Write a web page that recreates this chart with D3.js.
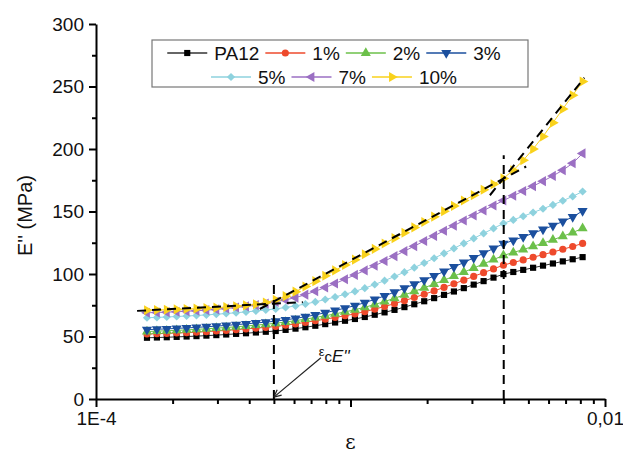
<!DOCTYPE html>
<html>
<head>
<meta charset="utf-8">
<script src="https://cdn.jsdelivr.net/npm/d3@7"></script>
<style>
  body { margin: 0; background: #fff; }
  svg text { font-family: "Liberation Sans", Arial, sans-serif; fill: #111; }
</style>
</head>
<body>
<div class="canvas"></div>
<script>
// strain amplitude (x) of every measured point
const strain = [1.586e-4, 1.735e-4, 1.897e-4, 2.075e-4, 2.270e-4, 2.482e-4, 2.715e-4, 2.970e-4, 3.248e-4, 3.552e-4,
  3.885e-4, 4.249e-4, 4.647e-4, 5.083e-4, 5.559e-4, 6.080e-4, 6.650e-4, 7.273e-4, 7.955e-4, 8.700e-4,
  9.515e-4, 1.041e-3, 1.138e-3, 1.245e-3, 1.361e-3, 1.489e-3, 1.629e-3, 1.781e-3, 1.948e-3, 2.131e-3,
  2.331e-3, 2.549e-3, 2.788e-3, 3.049e-3, 3.334e-3, 3.647e-3, 3.989e-3, 4.362e-3, 4.771e-3, 5.218e-3,
  5.707e-3, 6.242e-3, 6.827e-3, 7.466e-3, 8.166e-3];

// loss modulus E'' (MPa) per series
const pa12 = [49.0, 49.2, 49.4, 49.7, 50.0, 50.3, 50.7, 51.1, 51.6, 52.1, 52.6, 53.2, 53.8, 54.4, 55.3,
  56.3, 57.4, 58.6, 59.9, 61.2, 62.6, 64.0, 65.6, 67.4, 69.3, 71.3, 73.5, 75.8, 78.2, 80.7,
  83.3, 86.0, 88.7, 91.5, 94.3, 97.1, 99.9, 101.6, 103.3, 105.0, 106.7, 108.4, 110.1, 111.8, 113.5];
const c1 = [52.0, 52.2, 52.5, 52.8, 53.1, 53.5, 53.9, 54.4, 54.9, 55.5, 56.1, 56.7, 57.3, 58.0, 59.0,
  60.1, 61.3, 62.6, 63.9, 65.2, 66.6, 68.1, 69.9, 71.9, 74.0, 76.3, 78.7, 81.2, 83.8, 86.5,
  89.3, 92.2, 95.1, 98.1, 101.1, 104.1, 107.1, 109.2, 111.3, 113.4, 115.5, 117.6, 119.8, 122.0, 124.5];
const c2 = [54.0, 54.3, 54.6, 54.9, 55.3, 55.7, 56.2, 56.7, 57.2, 57.8, 58.4, 59.1, 59.8, 60.6, 61.6,
  62.7, 63.9, 65.2, 66.6, 68.1, 69.7, 71.4, 73.4, 75.6, 78.0, 80.6, 83.3, 86.1, 89.0, 92.0,
  95.1, 98.3, 101.5, 104.8, 108.1, 111.5, 114.9, 117.2, 119.6, 122.1, 124.7, 127.4, 130.2, 133.2, 136.5];
const c3 = [55.5, 55.8, 56.1, 56.5, 56.9, 57.3, 57.8, 58.3, 58.9, 59.5, 60.1, 60.8, 61.5, 62.3, 63.3,
  64.5, 65.8, 67.3, 69.0, 70.8, 72.7, 74.7, 77.1, 79.7, 82.5, 85.5, 88.6, 91.8, 95.1, 98.5,
  102.0, 105.6, 109.2, 112.9, 116.6, 120.4, 124.2, 126.9, 129.7, 132.6, 135.6, 138.7, 142.0, 145.6, 150.5];
const c5 = [65.0, 65.3, 65.6, 66.0, 66.4, 66.8, 67.3, 67.8, 68.4, 69.0, 69.7, 70.4, 71.2, 72.1, 73.2,
  74.5, 76.0, 77.7, 79.6, 81.6, 83.8, 86.1, 88.7, 91.6, 94.7, 98.0, 101.5, 105.1, 108.8, 112.6,
  116.5, 120.5, 124.5, 128.5, 132.5, 136.5, 140.5, 143.3, 146.2, 149.2, 152.2, 155.3, 158.6, 162.1, 166.0];
const c7 = [69.0, 69.2, 69.5, 69.8, 70.2, 70.6, 71.1, 71.7, 72.4, 73.2, 74.1, 75.1, 76.3, 77.7, 79.3,
  81.1, 83.5, 86.2, 89.2, 92.4, 95.8, 99.3, 102.9, 106.6, 110.4, 114.3, 118.3, 122.3, 126.4, 130.5,
  134.6, 138.7, 142.8, 146.8, 150.8, 154.8, 158.8, 162.6, 166.4, 170.3, 174.3, 178.5, 183.1, 188.6, 196.5];
const c10 = [71.0, 71.2, 71.4, 71.7, 72.0, 72.3, 72.7, 73.1, 73.6, 74.2, 74.9, 75.8, 77.2, 79.3, 82.3,
  85.9, 90.0, 94.3, 98.6, 102.9, 107.2, 111.5, 115.8, 120.1, 124.4, 128.7, 133.0, 137.3, 141.6, 145.9,
  150.2, 154.5, 158.8, 163.1, 167.4, 171.8, 176.5, 183.0, 191.0, 200.0, 210.0, 221.0, 232.0, 243.0, 254.0];

const seriesNames = ['PA12', '1%', '2%', '3%', '5%', '7%', '10%'];

// axis ticks
const xTickValues = [1e-4, 1e-3, 1e-2];
const xTickLabels = ['1E-4', '', '0,01'];
const yTickValues = [0, 50, 100, 150, 200, 250, 300];
const yMinorValues = [25, 75, 125, 175, 225, 275];

// dashed fit lines and critical strains (strain, MPa)
const fitLow = [[1.45e-4, 70.5], [6.5e-4, 77.5]];
const fitMid = [[4.4e-4, 72], [4.9e-3, 186]];
const fitHigh = [[3.53e-3, 163], [8.3e-3, 257]];
const critLow = [[5e-4, 0], [5e-4, 93]];
const critHigh = [[4e-3, 0], [4e-3, 195]];
const arrowFrom = [7.65e-4, 33];
const arrowTo = [5e-4, 1.5];
const labelAt = [7.5e-4, 30];

// dimensions
const width = 623, height = 455;
const margin = { top: 24, right: 18, bottom: 56, left: 96 };

const svg = d3.select('.canvas')
    .append('svg')
    .attr('width', width)
    .attr('height', height);

const x = d3.scaleLog()
    .domain([1e-4, 1e-2])
    .range([margin.left, width - margin.right]);

const y = d3.scaleLinear()
    .domain([0, 300])
    .range([height - margin.bottom, margin.top]);

// styles for each series, same order as seriesNames
const styles = [
    { color: '#000000', line: '#333333', symbol: d3.symbolSquare, rot: 0, size: 38 },
    { color: '#ee4a2c', line: '#ee4a2c', symbol: d3.symbolCircle, rot: 0, size: 40 },
    { color: '#6cc04a', line: '#6cc04a', symbol: d3.symbolTriangle, rot: 0, size: 44 },
    { color: '#1b4f9e', line: '#1b4f9e', symbol: d3.symbolTriangle, rot: 180, size: 44 },
    { color: '#8ed2de', line: '#8ed2de', symbol: d3.symbolSquare, rot: 45, size: 34 },
    { color: '#9b6fc3', line: '#9b6fc3', symbol: d3.symbolTriangle, rot: -90, size: 44 },
    { color: '#f9d21c', line: '#f9d21c', symbol: d3.symbolTriangle, rot: 90, size: 44 }
];

const seriesValues = [pa12, c1, c2, c3, c5, c7, c10];
const series = seriesNames.map((name, i) => ({
    name,
    ...styles[i],
    points: strain.map((s, j) => ({ s, v: seriesValues[i][j] }))
}));

// axes
const isDecade = t => Math.abs(Math.log10(t) - Math.round(Math.log10(t))) < 1e-6;
const xMinorValues = x.ticks().filter(t => !isDecade(t));

const axisStyle = g => {
    g.selectAll('line').attr('stroke', '#000').attr('stroke-width', 2);
    g.selectAll('text').attr('font-size', 19).attr('fill', '#111');
};

svg.append('g')
    .attr('transform', `translate(0, ${y(0)})`)
    .call(d3.axisBottom(x).tickValues(xMinorValues).tickSize(5).tickFormat(''))
    .call(axisStyle)
    .call(g => g.select('.domain').remove());

svg.append('g')
    .attr('transform', `translate(${margin.left}, 0)`)
    .call(d3.axisLeft(y).tickValues(yMinorValues).tickSize(4).tickFormat(''))
    .call(axisStyle)
    .call(g => g.select('.domain').remove());

svg.append('g')
    .attr('transform', `translate(0, ${y(0)})`)
    .call(d3.axisBottom(x).tickValues(xTickValues).tickSize(8).tickSizeOuter(0).tickPadding(5)
        .tickFormat((d, i) => xTickLabels[i]))
    .call(axisStyle)
    .call(g => g.select('.domain').attr('stroke', '#000').attr('stroke-width', 2));

svg.append('g')
    .attr('transform', `translate(${margin.left}, 0)`)
    .call(d3.axisLeft(y).tickValues(yTickValues).tickSize(7).tickSizeOuter(0).tickPadding(5))
    .call(axisStyle)
    .call(g => g.select('.domain').attr('stroke', '#000').attr('stroke-width', 2));

// axis titles
svg.append('text')
    .attr('transform', `translate(32, ${(y(0) + y(300)) / 2 + 4}) rotate(-90)`)
    .attr('text-anchor', 'middle')
    .attr('font-size', 20)
    .text("E'' (MPa)");

svg.append('text')
    .attr('x', x(1e-3))
    .attr('y', height - 6)
    .attr('text-anchor', 'middle')
    .attr('font-size', 20)
    .style('font-family', '"DejaVu Serif", serif')
    .text('ε');

// series lines and markers
const line = d3.line().x(d => x(d.s)).y(d => y(d.v));

series.forEach(sr => {
    const g = svg.append('g');
    g.append('path')
        .datum(sr.points)
        .attr('d', line)
        .attr('fill', 'none')
        .attr('stroke', sr.line)
        .attr('stroke-width', 1);
    g.selectAll('path.pt')
        .data(sr.points)
        .enter()
        .append('path')
            .attr('class', 'pt')
            .attr('d', d3.symbol().type(sr.symbol).size(sr.size))
            .attr('transform', d => `translate(${x(d.s)}, ${y(d.v)}) rotate(${sr.rot})`)
            .attr('fill', sr.color);
});

// dashed annotation lines
const dashed = d3.line().x(d => x(d[0])).y(d => y(d[1]));
[fitLow, fitMid, fitHigh, critLow, critHigh].forEach(seg => {
    svg.append('path')
        .attr('d', dashed(seg))
        .attr('fill', 'none')
        .attr('stroke', '#000')
        .attr('stroke-width', 2)
        .attr('stroke-dasharray', '9,6');
});

// arrow to the critical strain
const ax0 = x(arrowFrom[0]), ay0 = y(arrowFrom[1]);
const ax1 = x(arrowTo[0]), ay1 = y(arrowTo[1]);
const ang = Math.atan2(ay1 - ay0, ax1 - ax0);
svg.append('line')
    .attr('x1', ax0).attr('y1', ay0).attr('x2', ax1).attr('y2', ay1)
    .attr('stroke', '#222').attr('stroke-width', 1.2);
[0.45, -0.45].forEach(da => {
    svg.append('line')
        .attr('x1', ax1).attr('y1', ay1)
        .attr('x2', ax1 - 8 * Math.cos(ang + da))
        .attr('y2', ay1 - 8 * Math.sin(ang + da))
        .attr('stroke', '#222').attr('stroke-width', 1.2);
});

const lbl = svg.append('text')
    .attr('x', x(labelAt[0]))
    .attr('y', y(labelAt[1]));
lbl.append('tspan').attr('font-size', 13).attr('dy', -6).text('ε');
lbl.append('tspan').attr('font-size', 15).attr('dy', 6).text('c');
lbl.append('tspan').attr('font-size', 17).attr('font-style', 'italic').text("E''");

// legend
const legend = svg.append('g');
legend.append('rect')
    .attr('x', 152).attr('y', 40)
    .attr('width', 376).attr('height', 47)
    .attr('fill', '#fff')
    .attr('stroke', '#777')
    .attr('stroke-width', 1.2);

const rows = [series.slice(0, 4), series.slice(4)];
const rowY = [53, 77];
const legCenter = 334;
rows.forEach((row, r) => {
    const rg = legend.append('g');
    let cx = 0;
    row.forEach(sr => {
        const ig = rg.append('g').attr('transform', `translate(${cx}, ${rowY[r]})`);
        ig.append('line')
            .attr('x1', 0).attr('x2', 40)
            .attr('stroke', sr.line).attr('stroke-width', 1.5);
        ig.append('path')
            .attr('d', d3.symbol().type(sr.symbol).size(sr.size))
            .attr('transform', `translate(20, 0) rotate(${sr.rot})`)
            .attr('fill', sr.color);
        const t = ig.append('text')
            .attr('x', 47).attr('y', 7)
            .attr('font-size', 19)
            .text(sr.name);
        cx += 47 + t.node().getComputedTextLength() + 6;
    });
    const w = cx - 6;
    rg.attr('transform', `translate(${legCenter - w / 2}, 0)`);
});
</script>
</body>
</html>
